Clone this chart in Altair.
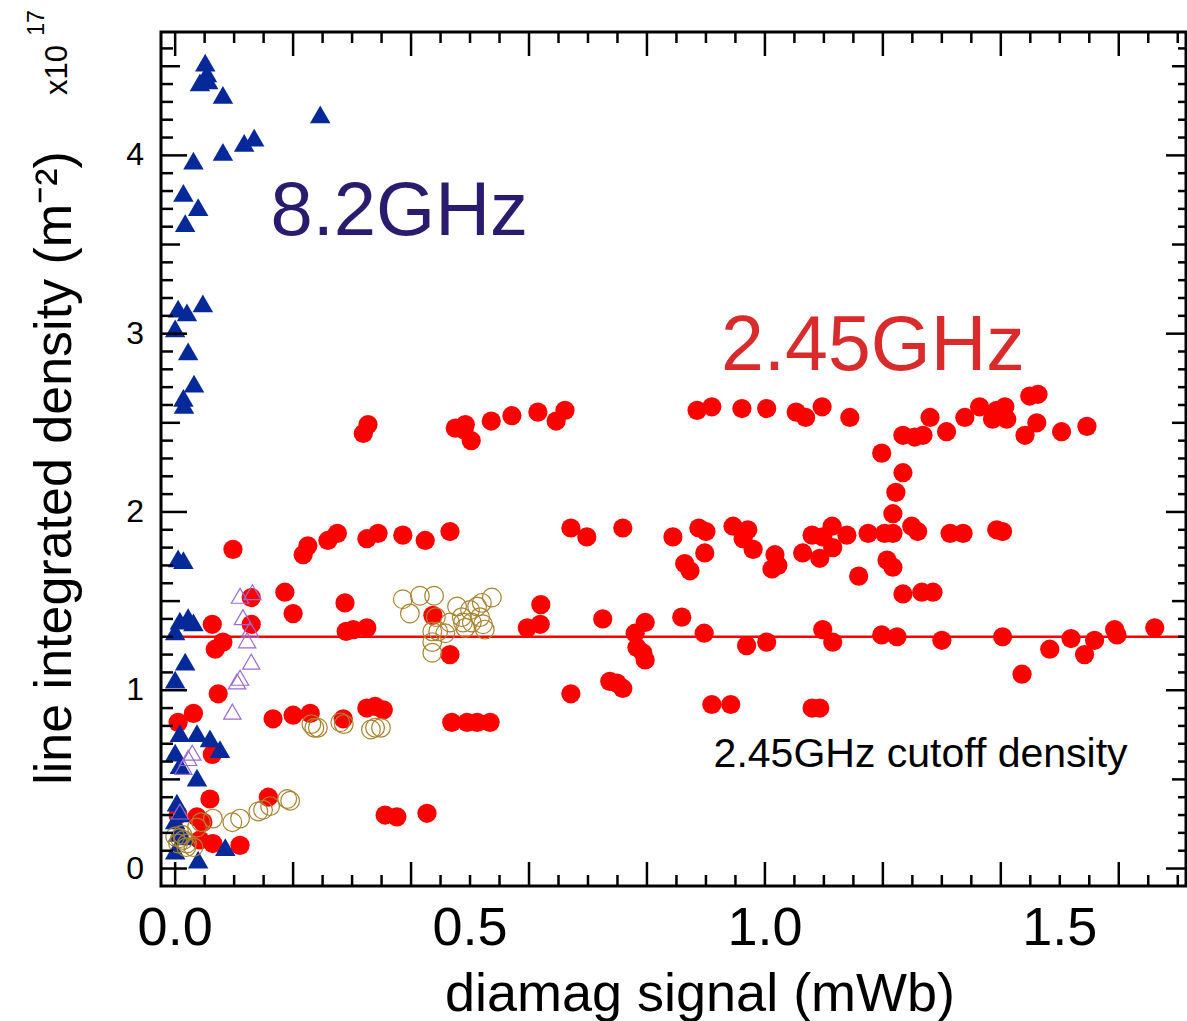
import altair as alt
import pandas as pd

# ---------------- axis ranges ----------------
X_MIN, X_MAX = -0.024, 1.714
Y_MIN, Y_MAX = -0.098, 4.692

# ---------------- data ----------------
# 8.2 GHz : filled blue triangles
blue_x = [0.051, 0.054, 0.042, 0.056, 0.081, 0.246, 0.134, 0.117, 0.081, 0.031,
          0.014, 0.039, 0.017, 0.047, 0.005, 0.020, 0.000, 0.022, 0.032, 0.014,
          0.015, 0.005, 0.014, 0.008, 0.022, 0.031, 0.000, 0.017, 0.000, 0.008,
          0.037, 0.059, 0.076, 0.000, 0.008, 0.037, 0.003, 0.008, 0.000, 0.005,
          0.014, 0.000, 0.085, 0.039]
blue_y = [4.52, 4.46, 4.41, 4.42, 4.34, 4.23, 4.10, 4.07, 4.02, 3.97,
          3.79, 3.71, 3.62, 3.17, 3.14, 3.12, 3.03, 2.90, 2.72, 2.64,
          2.60, 1.74, 1.73, 1.39, 1.41, 1.38, 1.33, 1.16, 1.06, 0.76,
          0.76, 0.73, 0.67, 0.65, 0.58, 0.51, 0.37, 0.31, 0.27, 0.20,
          0.18, 0.10, 0.12, 0.05]

# open purple triangles
purple_x = [0.110, 0.131, 0.115, 0.127, 0.122, 0.129, 0.110, 0.105, 0.097, 0.029,
            0.022, 0.014, 0.008]
purple_y = [1.53, 1.55, 1.41, 1.34, 1.28, 1.16, 1.07, 1.05, 0.88, 0.65,
            0.62, 0.57, 0.32]

# open olive circles
olive_x = [0.386, 0.398, 0.415, 0.439, 0.442, 0.436, 0.436, 0.436, 0.446, 0.458,
           0.466, 0.478, 0.486, 0.492, 0.500, 0.512, 0.517, 0.522, 0.525, 0.537,
           0.520, 0.503, 0.488,
           0.231, 0.236, 0.242, 0.280, 0.286, 0.332, 0.339, 0.349,
           0.190, 0.195, 0.161, 0.149, 0.141, 0.110, 0.097, 0.064, 0.044, 0.037,
           0.000, 0.008, 0.012, 0.014, 0.020, 0.005, 0.031, 0.019]
olive_y = [1.51, 1.43, 1.53, 1.53, 1.41, 1.33, 1.27, 1.21, 1.33, 1.32,
           1.38, 1.47, 1.41, 1.35, 1.45, 1.47, 1.41, 1.37, 1.34, 1.52,
           1.49, 1.38, 1.38,
           0.81, 0.79, 0.79, 0.82, 0.81, 0.78, 0.79, 0.79,
           0.39, 0.38, 0.35, 0.33, 0.32, 0.28, 0.26, 0.28, 0.26, 0.23,
           0.18, 0.17, 0.19, 0.16, 0.14, 0.14, 0.12, 0.12]

# 2.45 GHz : filled red circles
red_x = [
    # upper band
    0.319, 0.327, 0.475, 0.492, 0.502, 0.490, 0.536, 0.571, 0.615, 0.646,
    0.661, 0.885, 0.910, 0.961, 1.003, 1.053, 1.069, 1.097, 1.144, 1.280,
    1.234, 1.254, 1.268, 1.308, 1.198, 1.339, 1.364, 1.386, 1.393, 1.407,
    1.410, 1.449, 1.463, 1.461, 1.441, 1.503, 1.546,
    1.234, 1.222, 1.217,
    # ~1.9 band
    0.098, 0.217, 0.225, 0.259, 0.275, 0.325, 0.344, 0.386, 0.424, 0.466,
    0.671, 0.698, 0.759, 0.844, 0.888, 0.900, 0.898, 0.864, 0.873,
    0.946, 0.971, 0.963, 0.980, 1.017, 1.022, 1.012,
    1.080, 1.064, 1.093, 1.098, 1.114, 1.115, 1.139,
    1.175, 1.203, 1.217, 1.249, 1.259, 1.314, 1.336, 1.393, 1.403,
    1.207, 1.217, 1.159, 1.234, 1.266, 1.285,
    # around the cutoff
    0.186, 0.200, 0.129, 0.129, 0.063, 0.081, 0.068, 0.288, 0.290, 0.302,
    0.325, 0.437, 0.466, 0.597, 0.620, 0.619, 0.725, 0.780, 0.797, 0.783,
    0.793, 0.797, 0.859, 0.897, 0.969, 1.003, 1.098, 1.115, 1.198, 1.224,
    1.300, 1.403, 1.436, 1.483, 1.519, 1.542, 1.559, 1.593, 1.597, 1.661,
    # ~1.0 and ~0.85 rows
    0.073, 0.031, 0.005, 0.166, 0.200, 0.229, 0.285, 0.325, 0.339, 0.353,
    0.469, 0.495, 0.512, 0.534, 0.671, 0.737, 0.749, 0.759, 0.910, 0.942,
    1.080, 1.093,
    # low density
    0.063, 0.059, 0.158, 0.356, 0.376, 0.427, 0.005, 0.037, 0.047, 0.064,
    0.110, 0.042]
red_y = [
    2.44, 2.49, 2.47, 2.49, 2.40, 2.46, 2.51, 2.54, 2.56, 2.51,
    2.57, 2.57, 2.59, 2.58, 2.58, 2.56, 2.53, 2.59, 2.53, 2.53,
    2.43, 2.42, 2.43, 2.45, 2.33, 2.53, 2.59, 2.52, 2.57, 2.59,
    2.52, 2.65, 2.66, 2.50, 2.43, 2.45, 2.48,
    2.22, 2.11, 1.99,
    1.79, 1.76, 1.81, 1.84, 1.88, 1.85, 1.88, 1.87, 1.84, 1.89,
    1.91, 1.86, 1.91, 1.86, 1.91, 1.89, 1.77, 1.71, 1.67,
    1.92, 1.90, 1.85, 1.79, 1.76, 1.70, 1.68,
    1.87, 1.77, 1.74, 1.86, 1.92, 1.80, 1.87,
    1.88, 1.88, 1.88, 1.92, 1.89, 1.88, 1.88, 1.90, 1.89,
    1.73, 1.69, 1.64, 1.54, 1.55, 1.55,
    1.55, 1.43, 1.52, 1.37, 1.37, 1.27, 1.23, 1.49, 1.33, 1.34,
    1.35, 1.42, 1.20, 1.35, 1.48, 1.37, 1.40, 1.32, 1.38, 1.24,
    1.21, 1.17, 1.41, 1.32, 1.25, 1.27, 1.34, 1.27, 1.31, 1.30,
    1.28, 1.30, 1.09, 1.23, 1.29, 1.20, 1.28, 1.34, 1.31, 1.35,
    0.98, 0.87, 0.82, 0.84, 0.86, 0.87, 0.84, 0.90, 0.91, 0.89,
    0.82, 0.82, 0.82, 0.82, 0.98, 1.05, 1.04, 1.01, 0.92, 0.92,
    0.90, 0.90,
    0.64, 0.39, 0.40, 0.30, 0.29, 0.31, 0.30, 0.29, 0.26, 0.14,
    0.13, 0.16]

# cutoff density line
cutoff_y = 1.3
cutoff_x = [0.0, 1.71]

# tick positions / labels
x_label_values = [0.0, 0.5, 1.0, 1.5]
y_label_values = [0, 1, 2, 3, 4]
x_major_ticks = [round(0.2 * i, 2) for i in range(9)]
x_minor_ticks = [round(0.05 * i, 2) for i in range(35) if i % 4 != 0]
y_major_ticks = [0, 1, 2, 3, 4]
y_mid_ticks = [0.5, 1.5, 2.5, 3.5, 4.5]
y_minor_ticks = [round(0.1 * i, 1) for i in range(47) if i % 5 != 0]

x_title = "diamag signal (mWb)"
y_title = "line integrated density (m⁻²)"

# annotations (data coordinates)
ann_text = ["8.2GHz", "2.45GHz", "2.45GHz cutoff density"]
ann_x = [0.380, 1.183, 1.264]
ann_y = [3.553, 2.796, 0.571]
ann_color = ["#2A1B6E", "#D92B2B", "#000000"]
ann_size = [76, 77, 41]

# ---------------- styling ----------------
W, H = 1025, 854
FONT = "Liberation Sans, Arial, Helvetica, sans-serif"
RED = "#FF0000"
BLUE = "#06299A"
PURPLE = "#9A6AD2"
OLIVE = "#A8832E"

xs = alt.Scale(domain=[X_MIN, X_MAX], nice=False, zero=False)
ys = alt.Scale(domain=[Y_MIN, Y_MAX], nice=False, zero=False)


def X(field):
    return alt.X(field, scale=xs, axis=None)


def Y(field):
    return alt.Y(field, scale=ys, axis=None)


red_df = pd.DataFrame({"x": red_x, "y": red_y})
blue_df = pd.DataFrame({"x": blue_x, "y": blue_y})
purple_df = pd.DataFrame({"x": purple_x, "y": purple_y})
olive_df = pd.DataFrame({"x": olive_x, "y": olive_y})
cut_df = pd.DataFrame({"x": [cutoff_x[0]], "x2": [cutoff_x[1]], "y": [cutoff_y]})

red_layer = alt.Chart(red_df).mark_circle(size=370, color=RED, opacity=1).encode(
    x=X("x:Q"), y=Y("y:Q"))
cut_layer = alt.Chart(cut_df).mark_rule(color=RED, strokeWidth=2.5).encode(
    x=X("x:Q"), x2="x2:Q", y=Y("y:Q"))
blue_layer = alt.Chart(blue_df).mark_point(shape="triangle-up", filled=True, size=420,
                                           color=BLUE, opacity=1, strokeWidth=0).encode(
    x=X("x:Q"), y=Y("y:Q"))
olive_layer = alt.Chart(olive_df).mark_point(shape="circle", filled=False, size=350,
                                             color=OLIVE, opacity=1, strokeWidth=1.2).encode(
    x=X("x:Q"), y=Y("y:Q"))
purple_layer = alt.Chart(purple_df).mark_point(shape="triangle-up", filled=False, size=300,
                                               color=PURPLE, opacity=1, strokeWidth=1.2).encode(
    x=X("x:Q"), y=Y("y:Q"))


def xticks(vals, length, top):
    df = pd.DataFrame({"v": vals})
    y0, y1 = (0, length) if top else (H, H - length)
    return alt.Chart(df).mark_rule(color="black", strokeWidth=2.5).encode(
        x=X("v:Q"), y=alt.value(y0), y2=alt.value(y1))


def yticks(vals, length, right):
    df = pd.DataFrame({"v": vals})
    x0, x1 = (W, W - length) if right else (0, length)
    return alt.Chart(df).mark_rule(color="black", strokeWidth=2.5).encode(
        y=Y("v:Q"), x=alt.value(x0), x2=alt.value(x1))


tick_layers = [
    xticks(x_major_ticks, 24, False), xticks(x_minor_ticks, 11, False),
    xticks(x_major_ticks, 24, True), xticks(x_minor_ticks, 11, True),
    yticks(y_major_ticks, 26, False), yticks(y_mid_ticks, 19, False),
    yticks(y_minor_ticks, 12, False),
    yticks(y_major_ticks, 20, True), yticks(y_mid_ticks, 14, True),
    yticks(y_minor_ticks, 8, True),
]

# tick labels, placed through the scales
xlab_layer = alt.Chart(pd.DataFrame({"v": x_label_values})).mark_text(
    font=FONT, fontSize=54, color="black", align="center", baseline="alphabetic").encode(
    x=X("v:Q"), y=alt.value(H + 59), text=alt.Text("v:Q", format=".1f"))
ylab_layer = alt.Chart(pd.DataFrame({"v": y_label_values})).mark_text(
    font=FONT, fontSize=32, color="black", align="right", baseline="middle").encode(
    y=Y("v:Q"), x=alt.value(-17), text=alt.Text("v:Q", format="d"))

# axis titles
xtitle_layer = alt.Chart(pd.DataFrame({"t": [x_title]})).mark_text(
    font=FONT, fontSize=54, color="black", align="center", baseline="alphabetic").encode(
    x=alt.value(539), y=alt.value(H + 125), text="t:N")
ytitle_layer = alt.Chart(pd.DataFrame({"t": [y_title]})).mark_text(
    font=FONT, fontSize=52, color="black", align="center", baseline="alphabetic",
    angle=270).encode(
    x=alt.value(-90), y=alt.value(436), text="t:N")

ann_layers = []
for t, ax, ay, c, s in zip(ann_text, ann_x, ann_y, ann_color, ann_size):
    d = pd.DataFrame({"x": [ax], "y": [ay], "t": [t]})
    ann_layers.append(
        alt.Chart(d).mark_text(font=FONT, fontSize=s, color=c, align="center",
                               baseline="alphabetic").encode(
            x=X("x:Q"), y=Y("y:Q"), text="t:N"))

exp_layer = alt.Chart(pd.DataFrame({"t": ["x10"]})).mark_text(
    font=FONT, fontSize=31, color="black", angle=270,
    align="center", baseline="alphabetic").encode(
    x=alt.value(-94), y=alt.value(38), text="t:N")
pow_layer = alt.Chart(pd.DataFrame({"t": ["17"]})).mark_text(
    font=FONT, fontSize=23, color="black", angle=270,
    align="center", baseline="alphabetic").encode(
    x=alt.value(-117), y=alt.value(-9), text="t:N")

chart = alt.layer(
    red_layer, cut_layer, blue_layer, olive_layer, purple_layer,
    *tick_layers, xlab_layer, ylab_layer, xtitle_layer, ytitle_layer,
    *ann_layers, exp_layer, pow_layer,
).properties(
    width=W, height=H,
    padding={"left": 161, "top": 32, "right": 1, "bottom": 135},
    autosize=alt.AutoSizeParams(type="none"),
).configure(background="white").configure_view(stroke="black", strokeWidth=3)

chart.save("out.html", embed_options={"renderer": "svg", "actions": False})
